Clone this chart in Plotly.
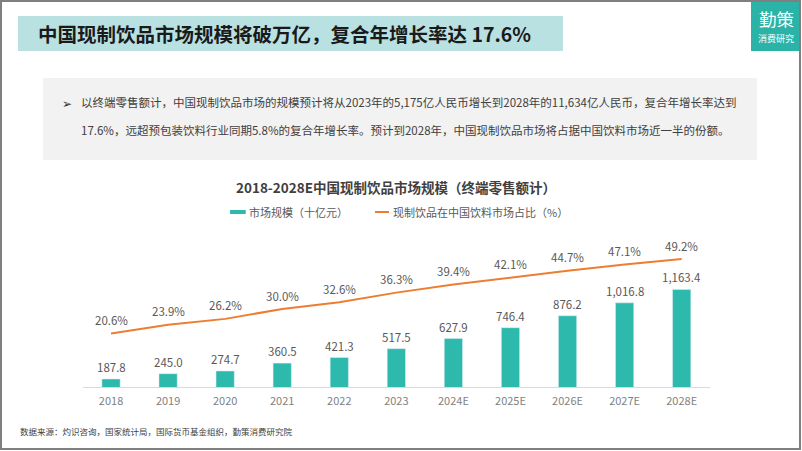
import plotly.graph_objects as go

W, H = 802, 451

categories = ["2018", "2019", "2020", "2021", "2022", "2023",
              "2024E", "2025E", "2026E", "2027E", "2028E"]
market_size = [187.8, 245.0, 274.7, 360.5, 421.3, 517.5,
               627.9, 746.4, 876.2, 1016.8, 1163.4]
share_pct = [20.6, 23.9, 26.2, 30.0, 32.6, 36.3,
             39.4, 42.1, 44.7, 47.1, 49.2]

TEAL = "#2DBAAD"
ORANGE = "#ED7D31"
LABEL = "#595959"
FONT = "Noto Sans CJK SC"


def px(x):
    return x / W


def py(y):
    return 1 - y / H


fig = go.Figure()
fig.add_trace(go.Bar(x=categories, y=market_size, marker_color=TEAL, width=0.32,
                     yaxis="y", name="市场规模（十亿元）", hoverinfo="skip"))
fig.add_trace(go.Scatter(x=categories, y=share_pct, mode="lines",
                         line=dict(color=ORANGE, width=2), yaxis="y2",
                         name="现制饮品在中国饮料市场占比（%）", hoverinfo="skip"))

ann = []
# on a category axis, annotation x is the category index
for i, v in enumerate(market_size):
    ann.append(dict(x=i, y=v, xref="x", yref="y", text=f"{v:,.1f}", showarrow=False,
                    yanchor="middle", yshift=12,
                    font=dict(size=11.5, color=LABEL, family=FONT)))
for i, v in enumerate(share_pct):
    ann.append(dict(x=i, y=v, xref="x", yref="y2", text=f"{v:.1f}%", showarrow=False,
                    yanchor="middle", yshift=13.5,
                    font=dict(size=11.5, color=LABEL, family=FONT)))


def txt(x, y, s, size, color, xanchor="left", bold=False):
    ann.append(dict(x=px(x), y=py(y), xref="paper", yref="paper",
                    text=f"<b>{s}</b>" if bold else s, showarrow=False,
                    xanchor=xanchor, yanchor="middle",
                    font=dict(size=size, color=color, family=FONT)))


txt(36, 33.5, "中国现制饮品市场规模将破万亿，复合年增长率达 17.6%", 19.5, "#1A1A1A", bold=True)
txt(776, 18, "勤策", 17.5, "white", xanchor="center")
txt(776, 39, "消费研究", 9, "white", xanchor="center")
txt(60, 102, "➢", 12, "#333333")
txt(79, 102, "以终端零售额计，中国现制饮品市场的规模预计将从2023年的5,175亿人民币增长到2028年的11,634亿人民币，复合年增长率达到",
    11.5, "#404040")
txt(79, 130, "17.6%，远超预包装饮料行业同期5.8%的复合年增长率。预计到2028年，中国现制饮品市场将占据中国饮料市场近一半的份额。",
    11.5, "#404040")
txt(396, 187, "2018-2028E中国现制饮品市场规模（终端零售额计）", 13.5, "#404040",
    xanchor="center", bold=True)
txt(247, 212, "市场规模（十亿元）", 11, LABEL)
txt(391, 212, "现制饮品在中国饮料市场占比（%）", 11, LABEL)
txt(18, 431, "数据来源：灼识咨询，国家统计局，国际货币基金组织，勤策消费研究院", 8.5, "#404040")


def rect(x0, y0, x1, y1, fill=None, line=None, lw=0):
    return dict(type="rect", xref="paper", yref="paper",
                x0=px(x0), x1=px(x1), y0=py(y1), y1=py(y0),
                fillcolor=fill if fill else "rgba(0,0,0,0)",
                line=dict(color=line if line else "rgba(0,0,0,0)", width=lw),
                layer="below")


shapes = [
    rect(18, 16, 563, 51, fill="#B9E1E2"),
    rect(751, 0, 800, 51, fill="#2CB3A8"),
    rect(43, 78, 757, 160, fill="#F2F2F2"),
    rect(230, 210, 245.7, 214, fill=TEAL),
    dict(type="line", xref="paper", yref="paper", x0=px(375), x1=px(389),
         y0=py(212), y1=py(212), line=dict(color=ORANGE, width=2)),
    rect(1, 1, 800, 449, line="#7F7F7F", lw=2),
]

fig.update_layout(
    width=W, height=H,
    margin=dict(l=0, r=0, t=0, b=0),
    paper_bgcolor="white", plot_bgcolor="white",
    showlegend=False,
    font=dict(family=FONT),
    xaxis=dict(type="category", range=[-0.5, len(categories) - 0.5],
               domain=[px(82.5), px(710.2)], showline=True,
               linecolor="#D9D9D9", linewidth=1, showgrid=False, zeroline=False,
               ticks="outside", ticklen=4, tickcolor="rgba(0,0,0,0)",
               tickfont=dict(size=11, color="#7F7F7F", family=FONT)),
    yaxis=dict(domain=[py(387), py(231)], range=[100, 1800], visible=False),
    yaxis2=dict(overlaying="y", range=[0, 60], visible=False),
    annotations=ann,
    shapes=shapes,
)

fig.write_html("out.html", config={"displayModeBar": False},
               post_script="document.body.style.margin='0';document.body.style.overflow='hidden';")
